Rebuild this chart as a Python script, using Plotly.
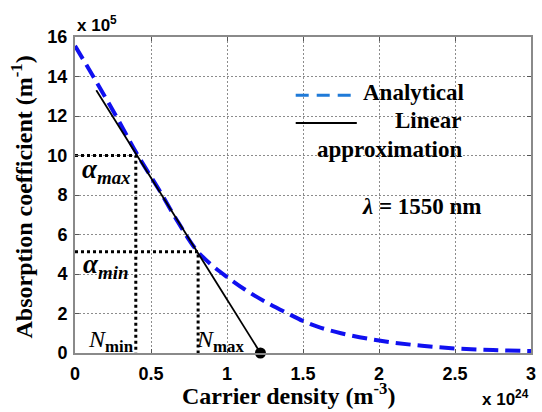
import plotly.graph_objects as go

# Absorption coefficient vs carrier density (values in units of 1e5 m^-1 and 1e24 m^-3)
analytic_n = [0, 0.12, 0.27, 0.41, 0.55, 0.68, 0.8, 0.9, 1.0, 1.12, 1.25, 1.4, 1.5,
              1.6, 1.75, 2.0, 2.25, 2.5, 2.75, 3.0]
analytic_alpha = [15.55, 14.0, 12.0, 10.05, 8.3, 6.6, 5.2, 4.45, 3.85, 3.2, 2.6, 2.0,
                  1.62, 1.32, 1.0, 0.63, 0.39, 0.23, 0.15, 0.1]

# Linear approximation, ending at the transparency density N0
linear_n = [0.14, 1.22]
linear_alpha = [13.3, 0.0]
n0 = 1.22

# Operating window
n_min, alpha_max = 0.40, 10.0
n_max, alpha_min = 0.81, 5.13

x_ticks = [0, 0.5, 1, 1.5, 2, 2.5, 3]
x_tick_text = ["0", "0.5", "1", "1.5", "2", "2.5", "3"]
y_ticks = [0, 2, 4, 6, 8, 10, 12, 14, 16]

SERIF = "Liberation Serif"
SANS = "Liberation Sans"

fig = go.Figure()

# Dotted guide lines for (Nmin, alpha_max) and (Nmax, alpha_min)
for n, a in [(n_min, alpha_max), (n_max, alpha_min)]:
    fig.add_trace(go.Scatter(
        x=[0, n, n], y=[a, a, 0], mode="lines",
        line=dict(color="black", width=3, dash="3px,3px"),
        hoverinfo="skip", showlegend=False))

fig.add_trace(go.Scatter(
    x=analytic_n, y=analytic_alpha, mode="lines", line_shape="spline",
    line=dict(color="#1010f0", width=4, dash="15px,7px", smoothing=1.0),
    name="Analytical", showlegend=False))

fig.add_trace(go.Scatter(
    x=linear_n, y=linear_alpha, mode="lines",
    line=dict(color="black", width=1.8),
    name="Linear approximation", showlegend=False))

fig.add_trace(go.Scatter(
    x=[n0], y=[0], mode="markers",
    marker=dict(color="black", size=11),
    hoverinfo="skip", showlegend=False, cliponaxis=False))

axis_common = dict(
    showline=True, linecolor="#8a8a8a", linewidth=2, mirror="ticks",
    ticks="inside", ticklen=4, tickcolor="#555555", tickwidth=1,
    showgrid=True, gridcolor="#8c8c8c", gridwidth=1, griddash="2px,2px",
    zeroline=False,
    tickfont=dict(family=SANS, size=18, color="black", weight="bold"),
)

fig.update_xaxes(range=[0, 3], tickvals=x_ticks, ticktext=x_tick_text,
                 ticklabelstandoff=3, **axis_common)
fig.update_yaxes(range=[0, 16], tickvals=y_ticks, ticklabelstandoff=2, **axis_common)

# Legend drawn inside the axes
fig.add_shape(type="line", xref="paper", yref="paper", x0=0.484, x1=0.618, y0=0.816, y1=0.816,
              line=dict(color="#1f7ad8", width=3, dash="13px,8px"))
fig.add_shape(type="line", xref="paper", yref="paper", x0=0.484, x1=0.618, y0=0.728, y1=0.728,
              line=dict(color="black", width=2))

annotations = [
    dict(x=1.88, y=13.2, text="<b>Analytical</b>", xanchor="left",
         font=dict(family=SERIF, size=23)),
    dict(x=2.32, y=11.75, text="<b>Linear</b>", font=dict(family=SERIF, size=23)),
    dict(x=2.07, y=10.3, text="<b>approximation</b>", font=dict(family=SERIF, size=23)),
    dict(x=2.28, y=7.4, text="<b><i>λ</i> = 1550 nm</b>", font=dict(family=SERIF, size=23)),
    dict(x=0.21, y=9.2, text="<b><i>α<sub>max</sub></i></b>", font=dict(family=SERIF, size=27)),
    dict(x=0.2, y=4.4, text="<b><i>α<sub>min</sub></i></b>", font=dict(family=SERIF, size=27)),
    dict(x=0.235, y=0.6, text="<i>N</i><sub><b>min</b></sub>", font=dict(family=SERIF, size=24)),
    dict(x=0.955, y=0.6, text="<i>N</i><sub><b>max</b></sub>", font=dict(family=SERIF, size=24)),
    dict(x=n0 + 0.03, y=-1.0, text="<i>N</i><sub>0</sub>", font=dict(family=SERIF, size=24)),
]
for a in annotations:
    a.setdefault("xref", "x")
    a.setdefault("yref", "y")
    a["showarrow"] = False
    a["font"].setdefault("color", "black")
    fig.add_annotation(**a)

# Axis titles and scale factors
fig.add_annotation(x=0.47, y=-0.185, xref="paper", yref="paper", showarrow=False,
                   xanchor="center", yanchor="bottom",
                   text="<b>Carrier density (m<sup>-3</sup>)</b>",
                   font=dict(family=SERIF, size=24, color="black"))
fig.add_annotation(x=-0.117, y=0.494, xref="paper", yref="paper", showarrow=False,
                   xanchor="center", yanchor="middle", textangle=-90,
                   text="<b>Absorption coefficient (m<sup>-1</sup>)</b>",
                   font=dict(family=SERIF, size=24, color="black"))
fig.add_annotation(x=0.0, y=1.0, xref="paper", yref="paper", showarrow=False,
                   xanchor="left", yanchor="bottom",
                   text="<b>x 10<sup>5</sup></b>",
                   font=dict(family=SANS, size=17, color="black"))
fig.add_annotation(x=1.0, y=-0.1, xref="paper", yref="paper", showarrow=False,
                   xanchor="right", yanchor="top",
                   text="<b>x 10<sup>24</sup></b>",
                   font=dict(family=SANS, size=17, color="black"))

fig.update_layout(
    width=542, height=412,
    margin=dict(l=75, r=6, t=37, b=59),
    paper_bgcolor="white", plot_bgcolor="white",
    showlegend=False,
)

fig.write_html("out.html")
